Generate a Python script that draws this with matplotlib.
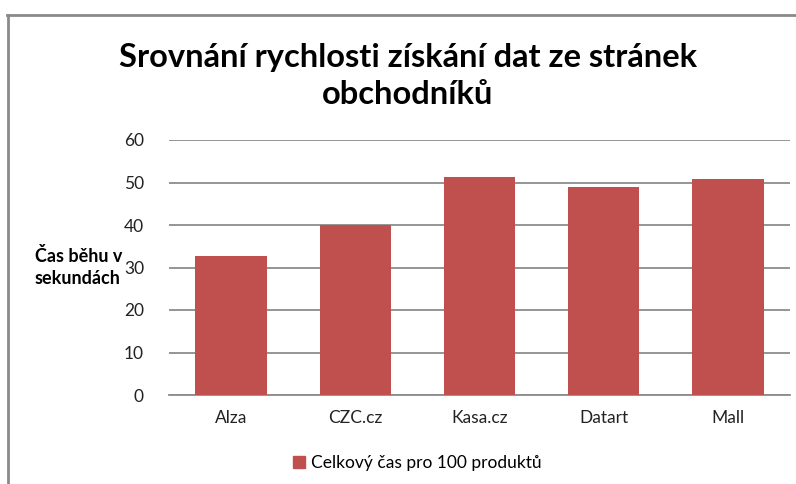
import matplotlib
matplotlib.use("Agg")
import matplotlib.pyplot as plt
from matplotlib.lines import Line2D

categories = ["Alza", "CZC.cz", "Kasa.cz", "Datart", "Mall"]
values = [32.8, 40.1, 51.2, 48.9, 50.8]
yticks = [0, 10, 20, 30, 40, 50, 60]
title = "Srovnání rychlosti získání dat ze stránek\nobchodníků"
ylabel = "Čas běhu v\nsekundách"
legend_label = "Celkový čas pro 100 produktů"

plt.rcParams['font.family'] = ['Lato', 'DejaVu Sans']

W, H = 796, 484
fig = plt.figure(figsize=(W / 100, H / 100), dpi=100)
ax = fig.add_axes([169 / W, (H - 395) / H, (790 - 169) / W, (395 - 140) / H])

x = range(len(categories))
ax.bar(x, values, width=0.575, color="#C0504D", zorder=3, label=legend_label)
ax.set_xlim(-0.5, len(categories) - 0.5)
ax.set_ylim(0, 60)
ax.set_yticks(yticks)
ax.set_xticks(list(x))
ax.set_xticklabels(categories)
ax.yaxis.grid(True, color="#8c8c8c", linewidth=1.3, zorder=0)
for s in ["left", "right", "top"]:
    ax.spines[s].set_visible(False)
ax.spines["bottom"].set_color("#8c8c8c")
ax.spines["bottom"].set_linewidth(1.3)
ax.tick_params(axis="both", length=0, labelsize=12.5, colors="#222222")
ax.tick_params(axis="y", pad=18)
ax.tick_params(axis="x", pad=11)

fig.text(408 / W, 1 - 76 / H, title, ha="center", va="center", fontsize=23.5,
         fontweight="bold", linespacing=1.32, color="black")
fig.text(35 / W, 1 - 267 / H, ylabel, ha="left", va="center", fontsize=13,
         fontweight="bold", linespacing=1.35, color="black")

handle = Line2D([], [], marker="s", linestyle="none", markersize=9,
                markerfacecolor="#C0504D", markeredgecolor="#C0504D")
fig.legend([handle], [legend_label], loc="center", bbox_to_anchor=(416 / W, 1 - 463 / H),
           frameon=False, fontsize=12.5, handletextpad=0.2, handlelength=1.0)

# outer chart frame (partially visible)
fig.add_artist(Line2D([7 / W, 1], [1 - 15 / H, 1 - 15 / H], transform=fig.transFigure,
                      color="#8a8a8a", linewidth=2))
fig.add_artist(Line2D([8 / W, 8 / W], [0, 1 - 15 / H], transform=fig.transFigure,
                      color="#8a8a8a", linewidth=2))

fig.savefig("out.png", dpi=100)
